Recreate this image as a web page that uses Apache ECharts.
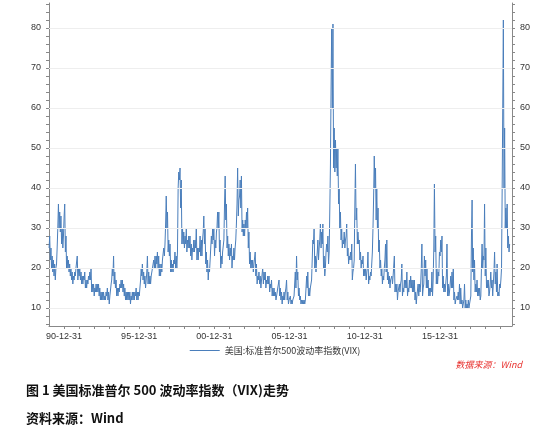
<!DOCTYPE html>
<html><head><meta charset="utf-8">
<script src="https://cdn.jsdelivr.net/npm/echarts@6/dist/echarts.min.js"></script>
<style>html,body{margin:0;padding:0;background:#fff}#c{width:550px;height:438px}</style>
</head><body><div id="c"></div>
<script>
// Monthly VIX estimates (typical/low and high of each month), Jan 1990 .. Aug 2020
const startYear = 1990;
const monthlyLows = [
 25,22,20,19,18,17,21,30,30,29,26,25,
 33,24,20,20,19,18,17,16,17,18,20,17,
 18,17,16,16,17,15,15,16,17,17,14,14,
 13,14,14,14,13,12,12,12,12,12,13,12,
 11,13,17,18,16,15,13,13,14,15,15,14,
 13,12,12,12,12,11,12,12,12,13,12,12,
 13,17,18,17,16,15,19,16,16,16,18,20,
 20,20,21,20,18,18,19,22,23,31,30,24,
 23,19,19,19,21,20,20,40,42,35,26,26,
 25,26,24,25,25,23,22,24,24,25,22,22,
 24,23,23,29,26,21,19,17,19,25,26,27,
 23,25,30,30,24,20,21,24,36,32,25,23,
 22,23,20,22,22,27,36,33,38,35,29,28,
 28,30,30,25,21,20,20,19,21,18,16,17,
 16,15,17,16,17,15,16,16,14,15,13,13,
 13,12,13,15,13,12,11,12,12,15,12,11,
 12,11,11,12,16,15,17,13,12,11,11,11,
 11,15,15,13,13,15,22,26,20,19,24,22,
 27,25,26,20,18,24,24,21,35,65,60,45,
 44,45,43,36,30,27,25,26,25,28,23,21,
 22,22,17,20,35,32,26,26,22,20,21,18,
 18,17,20,16,17,18,24,38,40,32,30,24,
 20,18,16,17,22,19,17,16,15,17,16,18,
 14,14,12,14,14,17,13,14,15,15,13,14,
 15,15,14,14,12,11,13,13,14,20,13,16,
 18,15,15,13,13,14,13,25,24,16,16,18,
 23,24,15,14,14,18,13,13,14,15,15,12,
 11,12,12,12,11,11,10,12,10,10,10,10,
 11,28,19,17,14,14,13,13,12,20,20,22,
 18,15,15,13,16,15,13,19,16,14,13,13,
 15,20,60,40,30,30,25,24
];
const monthlyHighs = [
 28,25,23,22,21,20,25,36,34,33,30,28,
 36,28,23,22,21,20,19,18,19,20,23,20,
 20,19,18,18,19,17,17,18,19,20,16,16,
 15,16,16,16,15,14,14,14,13,14,15,14,
 13,16,20,23,19,17,15,15,16,17,17,16,
 15,14,14,14,14,13,14,14,14,15,14,14,
 15,20,21,19,18,17,23,19,18,18,20,22,
 23,23,24,23,21,21,22,25,26,38,34,27,
 26,22,21,22,24,23,24,44,45,42,30,29,
 28,30,27,28,28,26,25,27,27,30,25,25,
 28,27,27,33,30,24,22,20,22,28,30,30,
 27,29,34,34,27,23,24,27,43,36,28,26,
 25,26,23,25,25,31,45,37,42,43,32,31,
 32,34,35,29,24,22,22,21,24,21,18,19,
 18,17,20,19,19,17,18,18,16,17,15,15,
 14,13,15,17,15,14,13,14,14,17,14,12,
 13,12,12,13,19,23,19,15,13,12,12,12,
 12,18,19,15,15,17,27,30,23,22,27,25,
 31,29,31,23,20,26,28,24,46,80,81,55,
 52,50,50,40,34,30,27,29,27,31,25,23,
 24,26,19,22,46,35,29,27,24,22,23,20,
 20,19,24,18,19,21,30,48,45,40,35,27,
 22,20,18,20,26,27,19,18,17,18,18,23,
 16,16,14,16,16,21,15,17,17,19,15,17,
 18,17,17,17,14,13,16,16,16,26,15,23,
 22,20,17,15,15,19,17,41,28,20,19,24,
 27,28,18,16,16,26,16,14,18,19,20,14,
 12,13,14,16,15,12,11,16,12,11,12,11,
 13,37,25,22,16,17,15,15,13,26,23,36,
 25,17,17,14,19,17,16,24,19,21,14,16,
 17,40,82,55,35,36,28,26
];
const tickLabelDates = ['1990-12-31','1995-12-31','2000-12-31','2005-12-31','2010-12-31','2015-12-31'];
const yLabels = [10,20,30,40,50,60,70,80];

const pts = [];
monthlyLows.forEach((v,i)=>{
  const y = startYear + Math.floor(i/12), m = i%12;
  pts.push([Date.UTC(y,m,4), v]);
  pts.push([Date.UTC(y,m,19), monthlyHighs[i]]);
});

const yearTicks = [];
for (let y=1990; y<=2019; y++) yearTicks.push(Date.parse(y+'-12-31'));
const yMinor = []; for (let v=6; v<=86; v+=2) yMinor.push(v);
const fmtDate = v => { const d=new Date(v); const p=n=>String(n).padStart(2,'0'); return p(d.getUTCFullYear()%100)+'-'+p(d.getUTCMonth()+1)+'-'+p(d.getUTCDate()); };

const yAx = (pos) => ({
  type:'value', position:pos, min:5.5, max:86.25,
  axisLine:{show:true,lineStyle:{color:'#888'}},
  axisTick:{show:true,customValues:yMinor,length:3,lineStyle:{color:'#888'}},
  axisLabel:{customValues:yLabels,color:'#333',fontSize:9,fontFamily:'Liberation Sans'},
  splitLine:{show:false}
});
const chart = echarts.init(document.getElementById('c'),null,{renderer:'canvas'});
chart.setOption({
  animation:false,
  grid:{left:49,right:38,top:3,bottom:112},
  xAxis:{type:'value',min:Date.parse('1990-01-02'),max:Date.parse('2020-10-15'),
    axisLine:{lineStyle:{color:'#888'}},
    axisTick:{customValues:yearTicks,length:3,lineStyle:{color:'#888'}},
    axisLabel:{customValues:tickLabelDates.map(d=>Date.parse(d)),formatter:fmtDate,color:'#333',fontSize:9,fontFamily:'Liberation Sans',margin:6},
    splitLine:{show:false}},
  yAxis:[yAx('left'),yAx('right')],
  legend:{bottom:78,left:'center',itemWidth:30,itemHeight:1,icon:'rect',textStyle:{fontSize:9,color:'#333',fontFamily:'Noto Sans CJK SC'},
    data:['美国:标准普尔500波动率指数(VIX)']},
  series:[
    {type:'line',silent:true,data:yLabels.map(v=>[0,v]),showSymbol:false,lineStyle:{width:0},
     markLine:{silent:true,symbol:'none',label:{show:false},lineStyle:{color:'#eeeeee',type:'solid',width:1},data:yLabels.map(v=>({yAxis:v}))}},
    {name:'美国:标准普尔500波动率指数(VIX)',type:'line',data:pts,showSymbol:false,lineStyle:{width:1,color:'#4a7ebb'},itemStyle:{color:'#4a7ebb'}}],
  graphic:[
    {type:'text',right:28,top:360,style:{text:'数据来源：Wind',fill:'#e8322f',font:'italic 9px "Noto Sans CJK SC"'}},
    {type:'text',left:26,top:384,style:{text:'图 1 美国标准普尔 500 波动率指数（VIX)走势',fill:'#111',font:'bold 13px "Noto Sans CJK SC"'}},
    {type:'text',left:26,top:412,style:{text:'资料来源：Wind',fill:'#111',font:'bold 13px "Noto Sans CJK SC"'}}
  ]
});
</script></body></html>
